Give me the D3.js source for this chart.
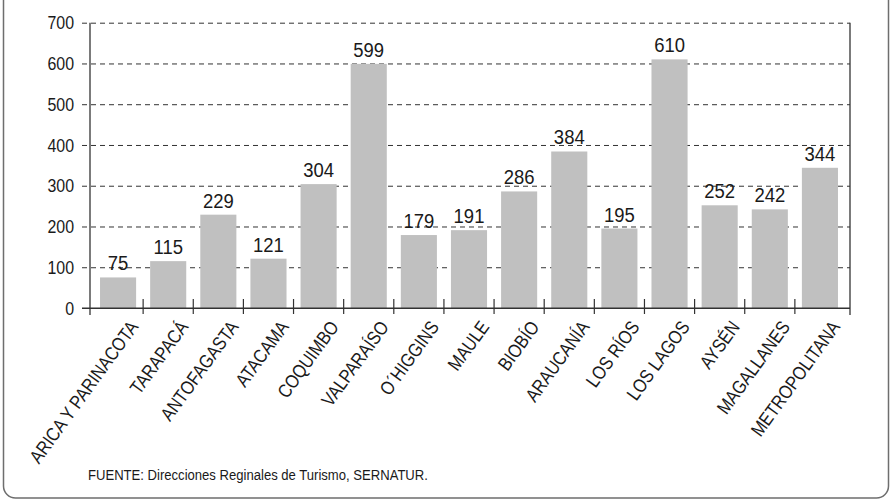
<!DOCTYPE html>
<html>
<head>
<meta charset="utf-8">
<script src="https://cdn.jsdelivr.net/npm/d3@7/dist/d3.min.js"></script>
<style>
  html, body { margin: 0; padding: 0; background: #fff; }
  svg { display: block; }
  text { font-family: "Liberation Sans Narrow", "Liberation Sans", Arial, sans-serif; fill: #1a1a1a; }
</style>
</head>
<body>
<svg id="chart" width="891" height="501"></svg>
<script>
const categories = ["ARICA Y PARINACOTA","TARAPACÁ","ANTOFAGASTA","ATACAMA","COQUIMBO","VALPARAÍSO","O´HIGGINS","MAULE","BIOBÍO","ARAUCANÍA","LOS RÍOS","LOS LAGOS","AYSÉN","MAGALLANES","METROPOLITANA"];
const values = [75, 115, 229, 121, 304, 599, 179, 191, 286, 384, 195, 610, 252, 242, 344];
const yTicks = [0, 100, 200, 300, 400, 500, 600, 700];
const sourceNote = "FUENTE: Direcciones Reginales de Turismo, SERNATUR.";

const svg = d3.select("#chart");

// frame
svg.append("rect")
  .attr("x", 3.5).attr("y", -30)
  .attr("width", 885).attr("height", 528)
  .attr("rx", 12).attr("ry", 12)
  .attr("fill", "none").attr("stroke", "#6e6e6e").attr("stroke-width", 1.5);

const plotLeft = 90, plotRight = 850;
const y = d3.scaleLinear().domain([0, 700]).range([308, 22.7]);
const x = d3.scaleBand().domain(categories).range([93, 845]).paddingInner(0.28).paddingOuter(0.14);

// y axis with gridlines
const yAxis = svg.append("g")
  .attr("transform", "translate(82,0)")
  .call(d3.axisLeft(y).tickValues(yTicks).tickSizeInner(-(plotRight - 82)).tickSizeOuter(0).tickPadding(8));
yAxis.select(".domain").remove();
yAxis.selectAll(".tick line")
  .attr("stroke", "#333")
  .attr("stroke-width", 1)
  .attr("stroke-dasharray", d => d === 0 ? null : "5,4");
yAxis.selectAll(".tick text")
  .attr("font-size", 19)
  .attr("x", -8 / 0.84)
  .attr("transform", `scale(0.84,1)`)
  .style("font-family", "'Liberation Sans Narrow', 'Liberation Sans', Arial, sans-serif")
  .attr("fill", "#1a1a1a");

// bars
svg.append("g").selectAll("rect")
  .data(values)
  .join("rect")
  .attr("x", (d, i) => x(categories[i]))
  .attr("width", x.bandwidth())
  .attr("y", d => y(d))
  .attr("height", d => y(0) - y(d))
  .attr("fill", "#c0c0c0");

// zero line on top
svg.append("line")
  .attr("x1", 82).attr("x2", plotRight)
  .attr("y1", y(0)).attr("y2", y(0))
  .attr("stroke", "#333").attr("stroke-width", 1.2);

// vertical axis lines
[plotLeft, plotRight].forEach(px => {
  svg.append("line")
    .attr("x1", px).attr("x2", px)
    .attr("y1", y(700)).attr("y2", y(0) + 7)
    .attr("stroke", "#333").attr("stroke-width", 1.3);
});

// category separator ticks
const gap = x.step() - x.bandwidth();
svg.append("g").selectAll("line")
  .data(categories.slice(1))
  .join("line")
  .attr("x1", d => x(d) - gap / 2)
  .attr("x2", d => x(d) - gap / 2)
  .attr("y1", y(0) - 9).attr("y2", y(0) + 6)
  .attr("stroke", "#333").attr("stroke-width", 1.2);

// value labels
svg.append("g").selectAll("text")
  .data(values)
  .join("text")
  .attr("transform", (d, i) => `translate(${x(categories[i]) + x.bandwidth() / 2},${y(d) - 7}) scale(0.88,1)`)
  .attr("text-anchor", "middle")
  .attr("font-size", 21)
  .text(d => d);

// category labels
svg.append("g").selectAll("text")
  .data(categories)
  .join("text")
  .attr("transform", d => `translate(${x(d) + x.bandwidth() / 2 + 21},327) rotate(-54) scale(0.85,1)`)
  .attr("text-anchor", "end")
  .attr("font-size", 19)
  .text(d => d);

// source note
svg.append("text")
  .attr("transform", `translate(88,480) scale(0.845,1)`)
  .attr("font-size", 15.5)
  .text(sourceNote);
</script>
</body>
</html>
